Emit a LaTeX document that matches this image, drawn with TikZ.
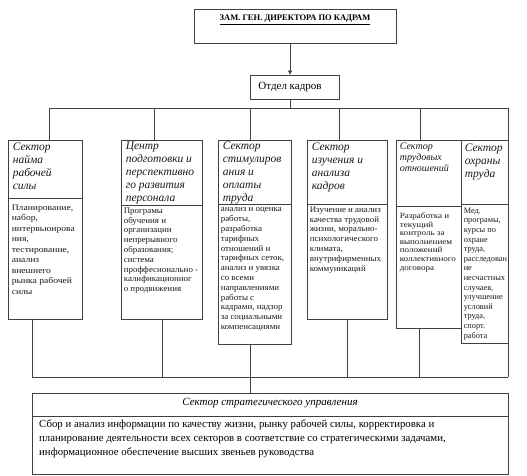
\documentclass[tikz,border=0pt]{standalone}
\usepackage{fontspec}
\setmainfont{Liberation Serif}
\newfontfamily\widefont[FakeStretch=1.13]{Liberation Serif}
\newfontfamily\midfont[FakeStretch=1.05]{Liberation Serif}
\usetikzlibrary{arrows.meta,fit}
\begin{document}
\begin{tikzpicture}[x=1pt,y=-1pt,
  ln/.style={line width=0.8pt, draw=black!75},
  box/.style={ln, rectangle, inner sep=0pt},
  hd/.style={anchor=north west, align=left, inner sep=0pt, text=black!90,
    font=\fontsize{11.5}{13}\selectfont\itshape},
  hds/.style={hd, font=\fontsize{10}{11}\selectfont\itshape},
  bd/.style={anchor=north west, align=left, inner sep=0pt, text=black!90,
    font=\midfont\fontsize{8.5}{9.8}\selectfont},
  bds/.style={bd, font=\widefont\fontsize{8}{8.6}\selectfont},
  tip/.style={-{Triangle[length=4pt,width=4pt]}}
]
\useasboundingbox (0,0) rectangle (527,476);

% top
\node[box, fit={(194,9) (396,43)}] (tb) {};
\node[inner sep=0pt, font=\fontsize{8.5}{10}\selectfont\bfseries] (tbt) at (295,20) {\underline{ЗАМ. ГЕН. ДИРЕКТОРА ПО КАДРАМ}};
\node[box, fit={(250,75) (339,99)}] (ok) {};
\node[inner sep=0pt, font=\fontsize{11}{13}\selectfont] (okt) at (290,87) {Отдел кадров};
\coordinate (ax) at (290,0);
\draw[ln, tip] (tb.south -| ax) -- (ok.north -| ax);

% sectors
\node[box, fit={(8,140) (82,198)}] (h1) {};
\node[box, fit={(8,198) (82,319)}] (b1) {};
\node[box, fit={(121,140) (202,205)}] (h2) {};
\node[box, fit={(121,205) (202,319)}] (b2) {};
\node[box, fit={(218,140) (291,204)}] (h3) {};
\node[box, fit={(218,204) (291,344)}] (b3) {};
\node[box, fit={(307,140) (387,204)}] (h4) {};
\node[box, fit={(307,204) (387,319)}] (b4) {};
\node[box, fit={(396,140) (461,206)}] (h5) {};
\node[box, fit={(396,206) (461,328)}] (b5) {};
\node[box, fit={(461,140) (508,204)}] (h6) {};
\node[box, fit={(461,204) (508,343)}] (b6) {};

\node[hd] (th1) at ([shift={(5,3)}]h1.north west) {Сектор\\найма\\рабочей\\силы};
\node[bd, font=\widefont\fontsize{8.5}{10.5}\selectfont] (tb1) at ([shift={(4,7)}]b1.north west) {Планирование,\\набор,\\интервьюирова\\ния,\\тестирование,\\анализ\\внешнего\\рынка рабочей\\силы};
\node[hd] (th2) at ([shift={(5,2)}]h2.north west) {Центр\\подготовки и\\перспективно\\го развития\\персонала};
\node[bd] (tb2) at ([shift={(3,3)}]b2.north west) {Програмы\\обучения и\\организации\\непрерывного\\образования;\\система\\проффесионально -\\калификационног\\о продвижения};
\node[hd] (th3) at ([shift={(5,2)}]h3.north west) {Сектор\\стимулиров\\ания и\\оплаты\\труда};
\node[bd] (tb3) at ([shift={(3,4)}]b3.north west) {анализ и оценка\\работы,\\разработка\\тарифных\\отношений и\\тарифных сеток,\\анализ и увязка\\со всеми\\направлениями\\работы с\\кадрами, надзор\\за социальными\\компенсациями};
\node[hd] (th4) at ([shift={(5,3)}]h4.north west) {Сектор\\изучения и\\анализа\\кадров};
\node[bd] (tb4) at ([shift={(3,3)}]b4.north west) {Изучение и анализ\\качества трудовой\\жизни, морально-\\психологического\\климата,\\внутрифирменных\\коммуникаций};
\node[hds] (th5) at ([shift={(4,3)}]h5.north west) {Сектор\\трудовых\\отношений};
\node[bds] (tb5) at ([shift={(4,7)}]b5.north west) {Разработка и\\текущий\\контроль за\\выполнением\\положений\\коллективного\\договора};
\node[hd] (th6) at ([shift={(4,4)}]h6.north west) {Сектор\\охраны\\труда};
\node[bd, font=\fontsize{8.3}{9.6}\selectfont] (tb6) at ([shift={(3,4)}]b6.north west) {Мед.\\програмы,\\курсы по\\охране\\труда,\\расследован\\ие\\несчастных\\случаев,\\улучшение\\условий\\труда,\\спорт.\\работа};

% top bus
\coordinate (d1) at (49,108);
\coordinate (d2) at (154,108);
\coordinate (d3) at (250,108);
\coordinate (d4) at (339,108);
\coordinate (d5) at (420,108);
\coordinate (d6) at (508,108);
\draw[ln] (ok.south -| ax) -- (ax |- d1);
\draw[ln] (d1) -- (d6);
\draw[ln] (d1) -- (h1.north -| d1);
\draw[ln] (d2) -- (h2.north -| d2);
\draw[ln] (d3) -- (h3.north -| d3);
\draw[ln] (d4) -- (h4.north -| d4);
\draw[ln] (d5) -- (h5.north -| d5);
\draw[ln] (d6) -- (h6.north -| d6);

% strategic
\node[box, fit={(32,393) (508,416)}] (hs) {};
\node[box, fit={(32,416) (508,474)}] (bs) {};
\node[inner sep=0pt, font=\fontsize{11}{13}\selectfont\itshape] (ths) at (270,403) {Сектор стратегического управления};
\node[anchor=north west, align=left, inner sep=0pt, font=\fontsize{10.8}{14}\selectfont] (tbs) at (39,420) {Сбор и анализ  информации по качеству жизни, рынку рабочей силы, корректировка и\\планирование деятельности всех секторов в соответствие со стратегическими задачами,\\информационное обеспечение высших звеньев руководства};

% bottom bus
\coordinate (u1) at (32,377);
\coordinate (u2) at (162,377);
\coordinate (u3) at (250,377);
\coordinate (u4) at (347,377);
\coordinate (u5) at (419,377);
\coordinate (u6) at (508,377);
\draw[ln] (b1.south -| u1) -- (u1);
\draw[ln] (b2.south -| u2) -- (u2);
\draw[ln] (b3.south -| u3) -- (u3);
\draw[ln] (b4.south -| u4) -- (u4);
\draw[ln] (b5.south -| u5) -- (u5);
\draw[ln] (b6.south -| u6) -- (u6);
\draw[ln] (u1) -- (u6);
\draw[ln] (u3) -- (hs.north -| u3);
\end{tikzpicture}
\end{document}
